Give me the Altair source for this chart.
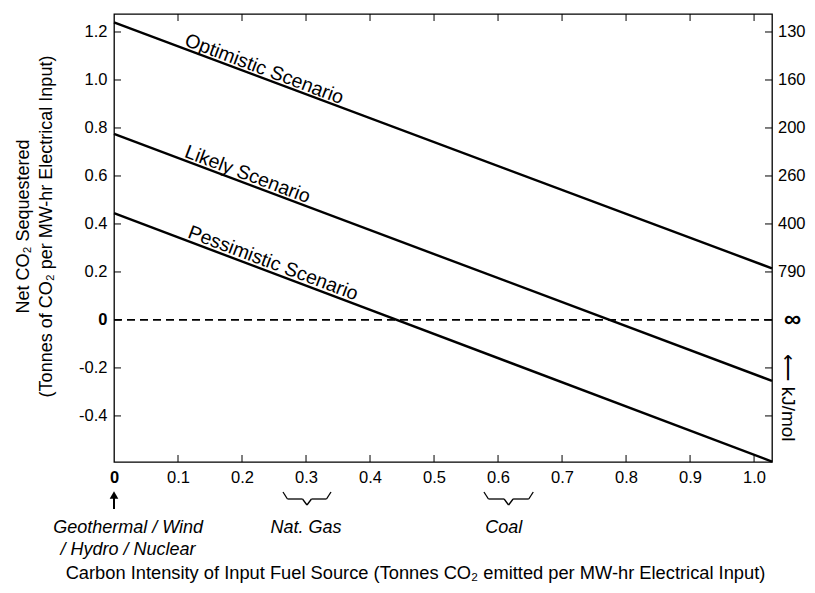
import altair as alt
import pandas as pd

# ---------------- data ----------------
scenarios = ["Optimistic Scenario", "Likely Scenario", "Pessimistic Scenario"]
line_x0 = [0.0, 0.0, 0.0]
line_x1 = [1.028, 1.028, 1.028]
line_y0 = [1.24, 0.775, 0.445]
line_y1 = [0.215, -0.254, -0.59]

label_x = [0.107, 0.107, 0.112]
label_y = [1.133, 0.668, 0.333]

x_ticks = [0, 0.1, 0.2, 0.3, 0.4, 0.5, 0.6, 0.7, 0.8, 0.9, 1.0]
x_tick_labels = ["0", "0.1", "0.2", "0.3", "0.4", "0.5", "0.6", "0.7", "0.8", "0.9", "1.0"]
y_ticks = [1.2, 1.0, 0.8, 0.6, 0.4, 0.2, 0, -0.2, -0.4]
y_tick_labels = ["1.2", "1.0", "0.8", "0.6", "0.4", "0.2", "0", "-0.2", "-0.4"]
right_ticks = [1.2, 1.0, 0.8, 0.6, 0.4, 0.2]
right_labels = ["130", "160", "200", "260", "400", "790"]
infinity_at = [0]

fuel_names = ["Geothermal / Wind\n/ Hydro / Nuclear", "Nat. Gas", "Coal"]
fuel_text_x = [0.022, 0.30, 0.609]
brace_lo = [0.264, 0.578]
brace_hi = [0.339, 0.655]
arrow_x = [0]

# ---------------- layout ----------------
W, H = 658, 448
FONT = "Liberation Sans"
xs = alt.Scale(domain=[0, 1.028], nice=False, zero=False)
ys = alt.Scale(domain=[-0.592, 1.275], nice=False, zero=False)


def label_expr(vals, labels):
    expr = "''"
    for v, l in zip(reversed(vals), reversed(labels)):
        expr = f"abs(datum.value - ({v})) < 0.000001 ? '{l}' : " + expr
    return expr


rows = []
for s, a, b, c, d in zip(scenarios, line_x0, line_x1, line_y0, line_y1):
    rows.append({"scenario": s, "x": a, "y": c})
    rows.append({"scenario": s, "x": b, "y": d})
lines_df = pd.DataFrame(rows)

bold_zero = alt.condition(alt.datum.value == 0, alt.value("bold"), alt.value("normal"))

x_axis = alt.Axis(
    values=x_ticks, labelExpr=label_expr(x_ticks, x_tick_labels), ticks=False, domain=False,
    grid=False, labelFontSize=16.5, labelPadding=7, labelFont=FONT, labelColor="black",
    labelFontWeight=bold_zero, labelFlush=False, labelOverlap=False,
    title="Carbon Intensity of Input Fuel Source (Tonnes CO\u2082 emitted per MW-hr Electrical Input)",
    titleFont=FONT, titleFontSize=18.3, titleFontWeight="normal", titleColor="black",
    titleY=111, titleBaseline="middle", titleX=301,
)
y_axis = alt.Axis(
    values=y_ticks, labelExpr=label_expr(y_ticks, y_tick_labels), ticks=False, domain=False,
    grid=False, labelFontSize=16.5, labelPadding=7, labelFont=FONT, labelColor="black",
    labelFontWeight=bold_zero, labelFlush=False, labelOverlap=False,
    title=["Net CO\u2082 Sequestered", "(Tonnes of CO\u2082 per MW-hr Electrical Input)"],
    titleFont=FONT, titleFontSize=18, titleFontWeight="normal", titleColor="black",
    titleAngle=-90, titleX=-100, titleY=212, titleBaseline="top", titleAlign="center",
    titleLineHeight=23,
)

lines = alt.Chart(lines_df).mark_line(color="black", strokeWidth=2.4).encode(
    x=alt.X("x:Q", scale=xs, axis=x_axis),
    y=alt.Y("y:Q", scale=ys, axis=y_axis),
    detail="scenario:N",
)

zero_df = pd.DataFrame({"y": [0]})
zero_line = alt.Chart(zero_df).mark_rule(color="black", strokeWidth=1.8, strokeDash=[8, 5]).encode(
    y=alt.Y("y:Q", scale=ys), x=alt.value(0), x2=alt.value(W)
)

lab_df = pd.DataFrame({"scenario": scenarios, "x": label_x, "y": label_y})
line_labels = alt.Chart(lab_df).mark_text(
    angle=20.6, align="left", baseline="alphabetic", dy=-3, fontSize=19.5, font=FONT, color="black"
).encode(
    x=alt.X("x:Q", scale=xs), y=alt.Y("y:Q", scale=ys), text="scenario:N"
)

# inward ticks
xt_df = pd.DataFrame({"x": x_ticks[1:]})
top_ticks = alt.Chart(xt_df).mark_rule(color="black", strokeWidth=1).encode(
    x=alt.X("x:Q", scale=xs), y=alt.value(0), y2=alt.value(7)
)
bottom_ticks = alt.Chart(xt_df).mark_rule(color="black", strokeWidth=1).encode(
    x=alt.X("x:Q", scale=xs), y=alt.value(H - 7), y2=alt.value(H)
)
yt_df = pd.DataFrame({"y": y_ticks})
left_ticks = alt.Chart(yt_df).mark_rule(color="black", strokeWidth=1).encode(
    y=alt.Y("y:Q", scale=ys), x=alt.value(0), x2=alt.value(7)
)
right_ticks_l = alt.Chart(yt_df).mark_rule(color="black", strokeWidth=1).encode(
    y=alt.Y("y:Q", scale=ys), x=alt.value(W - 7), x2=alt.value(W)
)

# right-side scale labels
rl_df = pd.DataFrame({"y": right_ticks, "t": right_labels})
right_text = alt.Chart(rl_df).mark_text(
    align="left", baseline="middle", fontSize=16.5, font=FONT, color="black"
).encode(y=alt.Y("y:Q", scale=ys), x=alt.value(W + 6), text="t:N")
inf_df = pd.DataFrame({"y": infinity_at, "t": ["\u221e"]})
inf_text = alt.Chart(inf_df).mark_text(
    align="left", baseline="middle", fontSize=24, fontWeight="bold", font=FONT, color="black"
).encode(y=alt.Y("y:Q", scale=ys), x=alt.value(W + 12), text="t:N")
unit_df = pd.DataFrame({"t": ["\u27f5  kJ/mol"]})
unit_text = alt.Chart(unit_df).mark_text(
    angle=90, align="center", baseline="middle", fontSize=19, font=FONT, color="black"
).encode(x=alt.value(W + 16), y=alt.value(384), text="t:N")

# fuel annotations below the axis
fa_df = pd.DataFrame({"x": fuel_text_x, "t": fuel_names})
fuel_text = alt.Chart(fa_df).mark_text(
    align="center", baseline="top", fontSize=18, fontStyle="italic", font=FONT, color="black",
    lineBreak="\n", lineHeight=22,
).encode(x=alt.X("x:Q", scale=xs), y=alt.value(505), text="t:N")

# curly braces under the fuel ranges, built from the range arrays
e = 0.007
mids = [(lo + hi) / 2 for lo, hi in zip(brace_lo, brace_hi)]
brace_ends = pd.DataFrame({
    "x": brace_lo + brace_hi,
    "x2": [v + e for v in brace_lo] + [v - e for v in brace_hi],
})
brace_flat = pd.DataFrame({
    "x": [v + e for v in brace_lo] + [m + e for m in mids],
    "x2": [m - e for m in mids] + [v - e for v in brace_hi],
})
brace_tip = pd.DataFrame({
    "x": [m - e for m in mids] + [m + e for m in mids],
    "x2": mids * 2,
})
b1 = alt.Chart(brace_ends).mark_rule(color="black", strokeWidth=1.3).encode(
    x=alt.X("x:Q", scale=xs), x2="x2:Q", y=alt.value(478), y2=alt.value(485)
)
b2 = alt.Chart(brace_flat).mark_rule(color="black", strokeWidth=1.3).encode(
    x=alt.X("x:Q", scale=xs), x2="x2:Q", y=alt.value(485), y2=alt.value(485)
)
b3 = alt.Chart(brace_tip).mark_rule(color="black", strokeWidth=1.3).encode(
    x=alt.X("x:Q", scale=xs), x2="x2:Q", y=alt.value(485), y2=alt.value(491)
)

ar_df = pd.DataFrame({"x": arrow_x})
arrow_shaft = alt.Chart(ar_df).mark_rule(color="black", strokeWidth=2).encode(
    x=alt.X("x:Q", scale=xs), y=alt.value(480), y2=alt.value(495)
)
arrow_head = alt.Chart(ar_df).mark_point(
    shape="triangle-up", filled=True, color="black", size=75, opacity=1
).encode(x=alt.X("x:Q", scale=xs), y=alt.value(481))

chart = alt.layer(
    lines, zero_line, line_labels, top_ticks, bottom_ticks, left_ticks, right_ticks_l,
    right_text, inf_text, unit_text, fuel_text, b1, b2, b3, arrow_shaft, arrow_head,
).properties(
    width=W, height=H, autosize="none",
    padding={"left": 106, "top": 6, "right": 35, "bottom": 123},
).configure(font=FONT, background="white").configure_view(stroke="black", strokeWidth=1.3)

chart.save("out.html", embed_options={"renderer": "svg", "actions": False})
